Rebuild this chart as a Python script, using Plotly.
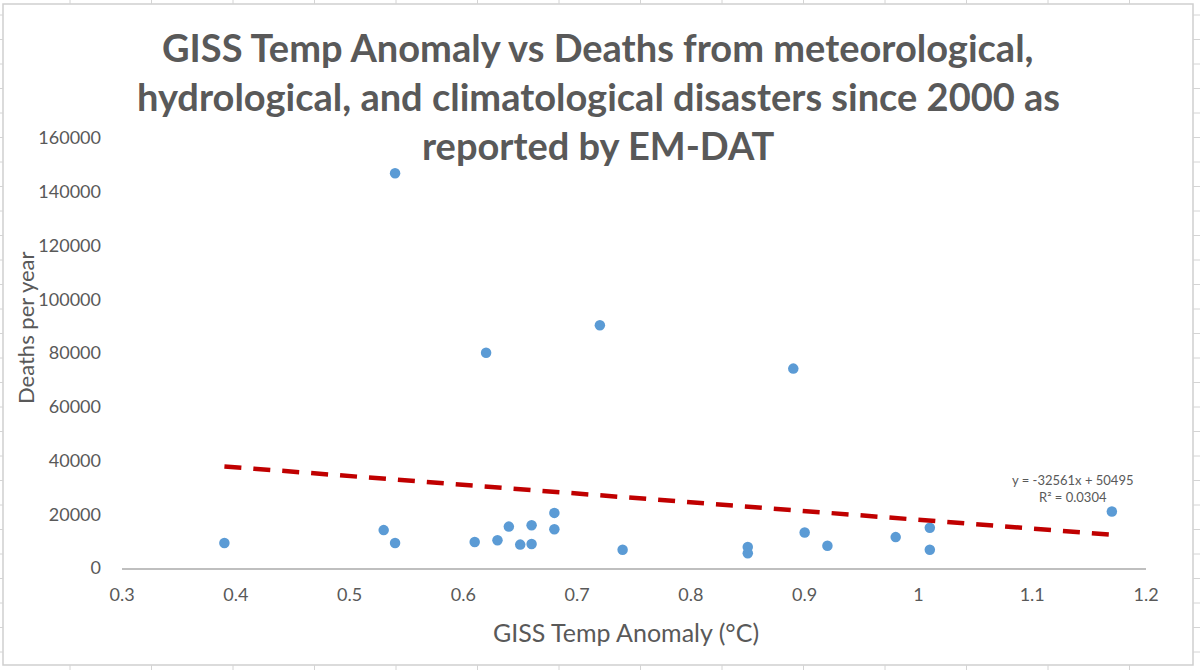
import plotly.graph_objects as go
import numpy as np

# ---- data ----
temp_anomaly = [0.39, 0.53, 0.54, 0.54, 0.61, 0.62, 0.63, 0.64, 0.65, 0.66, 0.66, 0.68,
                0.68, 0.72, 0.74, 0.85, 0.85, 0.89, 0.90, 0.92, 0.98, 1.01, 1.01, 1.17]
deaths = [9300, 14100, 9300, 146900, 9700, 80100, 10300, 15400, 8700, 15900, 8900, 20500,
          14400, 90300, 6800, 7800, 5500, 74200, 13200, 8300, 11500, 15000, 6800, 21000]
trend_slope = -32561
trend_intercept = 50495
trend_r2 = 0.0304
x_ticks = [0.3, 0.4, 0.5, 0.6, 0.7, 0.8, 0.9, 1.0, 1.1, 1.2]
x_tick_labels = ["0.3", "0.4", "0.5", "0.6", "0.7", "0.8", "0.9", "1", "1.1", "1.2"]
y_ticks = [0, 20000, 40000, 60000, 80000, 100000, 120000, 140000, 160000]

title_lines = ["GISS Temp Anomaly vs Deaths from meteorological,",
               "hydrological, and climatological disasters since 2000 as",
               "reported by EM-DAT"]

W, H = 1200, 670
L, R, T, B = 122, 54, 138, 102
pw, ph = W - L - R, H - T - B


def px(xp):
    return (xp - L) / pw


def py(yp):
    return (H - B - yp) / ph


fig = go.Figure()

fig.add_trace(go.Scatter(
    x=temp_anomaly, y=deaths, mode="markers",
    marker=dict(color="#5B9BD5", size=10.5),
    showlegend=False, cliponaxis=False,
))

tx = [min(temp_anomaly), max(temp_anomaly)]
ty = [trend_slope * v + trend_intercept for v in tx]
fig.add_trace(go.Scatter(
    x=tx, y=ty, mode="lines",
    line=dict(color="#C00000", width=4.5, dash="17px,12px"),
    showlegend=False,
))

gray = "#595959"
font_main = "Lato, Liberation Sans, Arial, sans-serif"

shapes = []
grid_col = "#D4D4D4"
# chart border
shapes.append(dict(type="rect", xref="paper", yref="paper",
                   x0=px(3), x1=px(1193), y0=py(665), y1=py(4),
                   line=dict(color="#D0D0D0", width=1.5), layer="below"))
# spreadsheet cell lines outside the chart
for xc in np.arange(70, 1200, 81.5):
    shapes.append(dict(type="line", xref="paper", yref="paper",
                       x0=px(xc), x1=px(xc), y0=py(0), y1=py(4),
                       line=dict(color=grid_col, width=1)))
    shapes.append(dict(type="line", xref="paper", yref="paper",
                       x0=px(xc), x1=px(xc), y0=py(665), y1=py(670),
                       line=dict(color=grid_col, width=1)))
for yr in np.arange(15, 670, 24.5):
    shapes.append(dict(type="line", xref="paper", yref="paper",
                       x0=px(0), x1=px(3), y0=py(yr), y1=py(yr),
                       line=dict(color=grid_col, width=1)))
    shapes.append(dict(type="line", xref="paper", yref="paper",
                       x0=px(1193), x1=px(1200), y0=py(yr), y1=py(yr),
                       line=dict(color=grid_col, width=1)))

annotations = []
for i, (line, yc) in enumerate(zip(title_lines, [47, 96, 145])):
    annotations.append(dict(
        x=px(598), y=py(yc), xref="paper", yref="paper",
        xanchor="center", yanchor="middle", text=f"<b>{line}</b>",
        showarrow=False, font=dict(family=font_main, size=38, color=gray)))
annotations.append(dict(
    x=px(626), y=py(632), xref="paper", yref="paper", xanchor="center", yanchor="middle",
    text="GISS Temp Anomaly (°C)", showarrow=False,
    font=dict(family=font_main, size=25, color=gray)))
annotations.append(dict(
    x=px(25), y=py(328), xref="paper", yref="paper", xanchor="center", yanchor="middle",
    text="Deaths per year", showarrow=False, textangle=-90,
    font=dict(family=font_main, size=22, color=gray)))
annotations.append(dict(
    x=1.17, y=trend_slope * 1.17 + trend_intercept, xref="x", yref="y",
    xanchor="center", yanchor="bottom", xshift=-39, yshift=28,
    text=f"y = {trend_slope}x + {trend_intercept}<br>R² = {trend_r2}",
    showarrow=False, align="center",
    font=dict(family=font_main, size=13, color=gray)))

fig.update_layout(
    width=W, height=H,
    margin=dict(l=L, r=R, t=T, b=B),
    paper_bgcolor="white", plot_bgcolor="white",
    xaxis=dict(range=[0.3, 1.2], tickvals=x_ticks, ticktext=x_tick_labels,
               showgrid=False, zeroline=False, showline=True, linecolor="#BFBFBF",
               linewidth=1.5, ticks="", ticklabelstandoff=10,
               tickfont=dict(family=font_main, size=18, color=gray)),
    yaxis=dict(range=[0, 160000], tickvals=y_ticks, showgrid=False, zeroline=False,
               showline=False, ticks="", ticklabelstandoff=20, tickformat="d",
               tickfont=dict(family=font_main, size=18, color=gray)),
    shapes=shapes,
    annotations=annotations,
)

fig.write_html("out.html", config={"displayModeBar": False},
               post_script="document.body.style.margin='0';")
